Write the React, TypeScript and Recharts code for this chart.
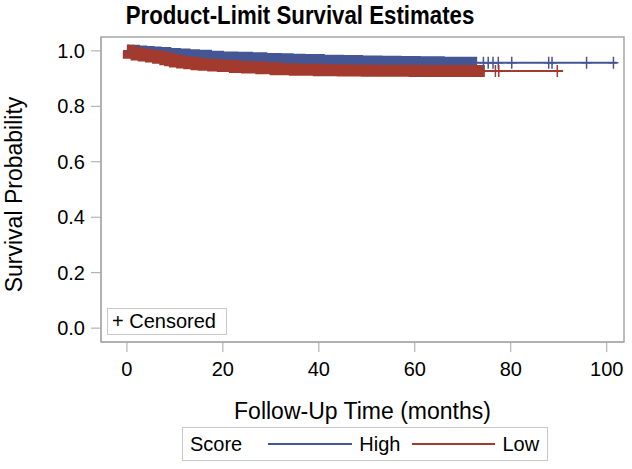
import React from 'react';
import { ComposedChart, Line, Scatter, XAxis, YAxis, ReferenceArea } from 'recharts';

// Kaplan-Meier step points
const highTimes = [0, 1.5, 3, 4.5, 6, 8, 10, 12, 14, 16.5, 19, 22, 25, 28, 31, 33.5, 36, 40, 44, 48, 52, 56, 60, 65, 102.1];
const highSurv = [1.0, 0.998, 0.996, 0.994, 0.992, 0.989, 0.987, 0.984, 0.982, 0.979, 0.976, 0.975, 0.973, 0.971, 0.97, 0.968, 0.967, 0.964, 0.963, 0.962, 0.961, 0.96, 0.959, 0.957, 0.957];
const lowTimes = [0, 0.4, 2, 3.5, 5, 6.5, 8, 9, 10, 11.5, 13, 14.5, 16, 18, 20, 22.5, 25, 28, 31, 35, 40, 45, 50, 60, 90.9];
const lowSurv = [1.0, 0.993, 0.987, 0.983, 0.98, 0.975, 0.97, 0.966, 0.962, 0.958, 0.955, 0.952, 0.95, 0.947, 0.945, 0.942, 0.94, 0.937, 0.934, 0.932, 0.93, 0.929, 0.928, 0.927, 0.927];

// censored marks are so dense up to these times that they merge into a band
const highDenseEnd = 73;
const lowDenseEnd = 74.6;
// isolated censored times after the band
const highCensor = [0.3, 74.3, 75.3, 76.3, 77.4, 80.2, 87.9, 88.6, 95.8, 101.4];
const lowCensor = [0.3, 76.8, 77.5, 89.7];

const xTicks = [0, 20, 40, 60, 80, 100];
const yTicks = [0, 0.2, 0.4, 0.6, 0.8, 1.0];
const xDomain = [-5.4, 103.6];
const yDomain = [-0.05, 1.05];

const HIGH = '#445694';
const LOW = '#A23A2E';
const FRAME = '#a6a6a6';
const FONT = '"Liberation Sans", Arial, sans-serif';

type Pt = { t: number; s: number };

const toPoints = (times: number[], surv: number[]): Pt[] => times.map((t, i) => ({ t, s: surv[i] }));

const survAt = (pts: Pt[], t: number) => {
  let s = pts[0].s;
  for (const p of pts) if (p.t <= t) s = p.s;
  return s;
};

const bandOf = (pts: Pt[], end: number): Pt[] => [...pts.filter((p) => p.t < end), { t: end, s: survAt(pts, end) }];

const highPts = toPoints(highTimes, highSurv);
const lowPts = toPoints(lowTimes, lowSurv);
const highCensorPts = highCensor.map((t) => ({ t, s: survAt(highPts, t) }));
const lowCensorPts = lowCensor.map((t) => ({ t, s: survAt(lowPts, t) }));

const plus = (color: string) => (props: any) => {
  const { cx, cy } = props;
  return (
    <path
      d={`M${cx - 5},${cy}H${cx + 5}M${cx},${cy - 6}V${cy + 6}`}
      stroke={color}
      strokeWidth={1.5}
      fill="none"
    />
  );
};

export default function App() {
  const tickStyle = { fill: '#000', fontSize: 20, fontFamily: FONT };
  const labelStyle = { fill: '#000', fontSize: 23, fontFamily: FONT };
  return (
    <div style={{ position: 'absolute', left: 0, top: 0, width: 632, height: 469, background: '#fff', fontFamily: FONT }}>
      <div
        style={{
          position: 'absolute',
          left: 0,
          width: 600,
          top: 0,
          textAlign: 'center',
          fontWeight: 'bold',
          fontSize: 25,
          lineHeight: '30px',
          transform: 'scaleX(0.89)',
          transformOrigin: '300px 0',
        }}
      >
        Product-Limit Survival Estimates
      </div>

      <ComposedChart width={632} height={469} margin={{ top: 37, right: 8, bottom: 47, left: 1 }}>
        <XAxis
          dataKey="t"
          type="number"
          domain={xDomain}
          ticks={xTicks}
          allowDataOverflow
          height={80}
          tick={tickStyle}
          tickSize={10}
          tickMargin={10}
          axisLine={{ stroke: FRAME }}
          tickLine={{ stroke: FRAME }}
          label={{ value: 'Follow-Up Time (months)', position: 'insideBottom', offset: 3, style: labelStyle }}
        />
        <YAxis
          type="number"
          domain={yDomain}
          ticks={yTicks}
          allowDataOverflow
          width={100}
          tick={tickStyle}
          tickSize={10}
          tickMargin={6}
          tickFormatter={(v: number) => v.toFixed(1)}
          axisLine={{ stroke: FRAME }}
          tickLine={{ stroke: FRAME }}
          label={{
            value: 'Survival Probability',
            angle: -90,
            position: 'insideLeft',
            offset: 13,
            dy: 5,
            style: { ...labelStyle, textAnchor: 'middle' },
          }}
        />
        <ReferenceArea x1={xDomain[0]} x2={xDomain[1]} y1={yDomain[0]} y2={yDomain[1]} fill="none" stroke={FRAME} strokeWidth={1.5} />

        <Line data={highPts} dataKey="s" type="stepAfter" stroke={HIGH} strokeWidth={2} dot={false} isAnimationActive={false} />
        <Line data={bandOf(highPts, highDenseEnd)} dataKey="s" type="stepAfter" stroke={HIGH} strokeWidth={12} dot={false} isAnimationActive={false} />
        <Scatter data={highCensorPts} dataKey="s" shape={plus(HIGH)} isAnimationActive={false} />

        <Line data={lowPts} dataKey="s" type="stepAfter" stroke={LOW} strokeWidth={2} dot={false} isAnimationActive={false} />
        <Line data={bandOf(lowPts, lowDenseEnd)} dataKey="s" type="stepAfter" stroke={LOW} strokeWidth={12} dot={false} isAnimationActive={false} />
        <Scatter data={lowCensorPts} dataKey="s" shape={plus(LOW)} isAnimationActive={false} />
      </ComposedChart>

      {/* inset censored key */}
      <div
        style={{
          position: 'absolute',
          left: 107,
          top: 308,
          width: 114,
          height: 25,
          border: '1px solid #c8c8c8',
          background: '#fff',
          fontSize: 20,
          lineHeight: '25px',
          paddingLeft: 4,
          boxSizing: 'content-box',
        }}
      >
        + Censored
      </div>

      {/* bottom legend */}
      <div
        style={{
          position: 'absolute',
          left: 182,
          top: 427,
          width: 364,
          height: 32,
          border: '1px solid #c8c8c8',
          display: 'flex',
          alignItems: 'center',
          fontSize: 20,
        }}
      >
        <span style={{ marginLeft: 7 }}>Score</span>
        <span style={{ marginLeft: 26, width: 84, height: 2, background: HIGH }} />
        <span style={{ marginLeft: 7 }}>High</span>
        <span style={{ marginLeft: 12, width: 83, height: 2, background: LOW }} />
        <span style={{ marginLeft: 7 }}>Low</span>
      </div>
    </div>
  );
}
